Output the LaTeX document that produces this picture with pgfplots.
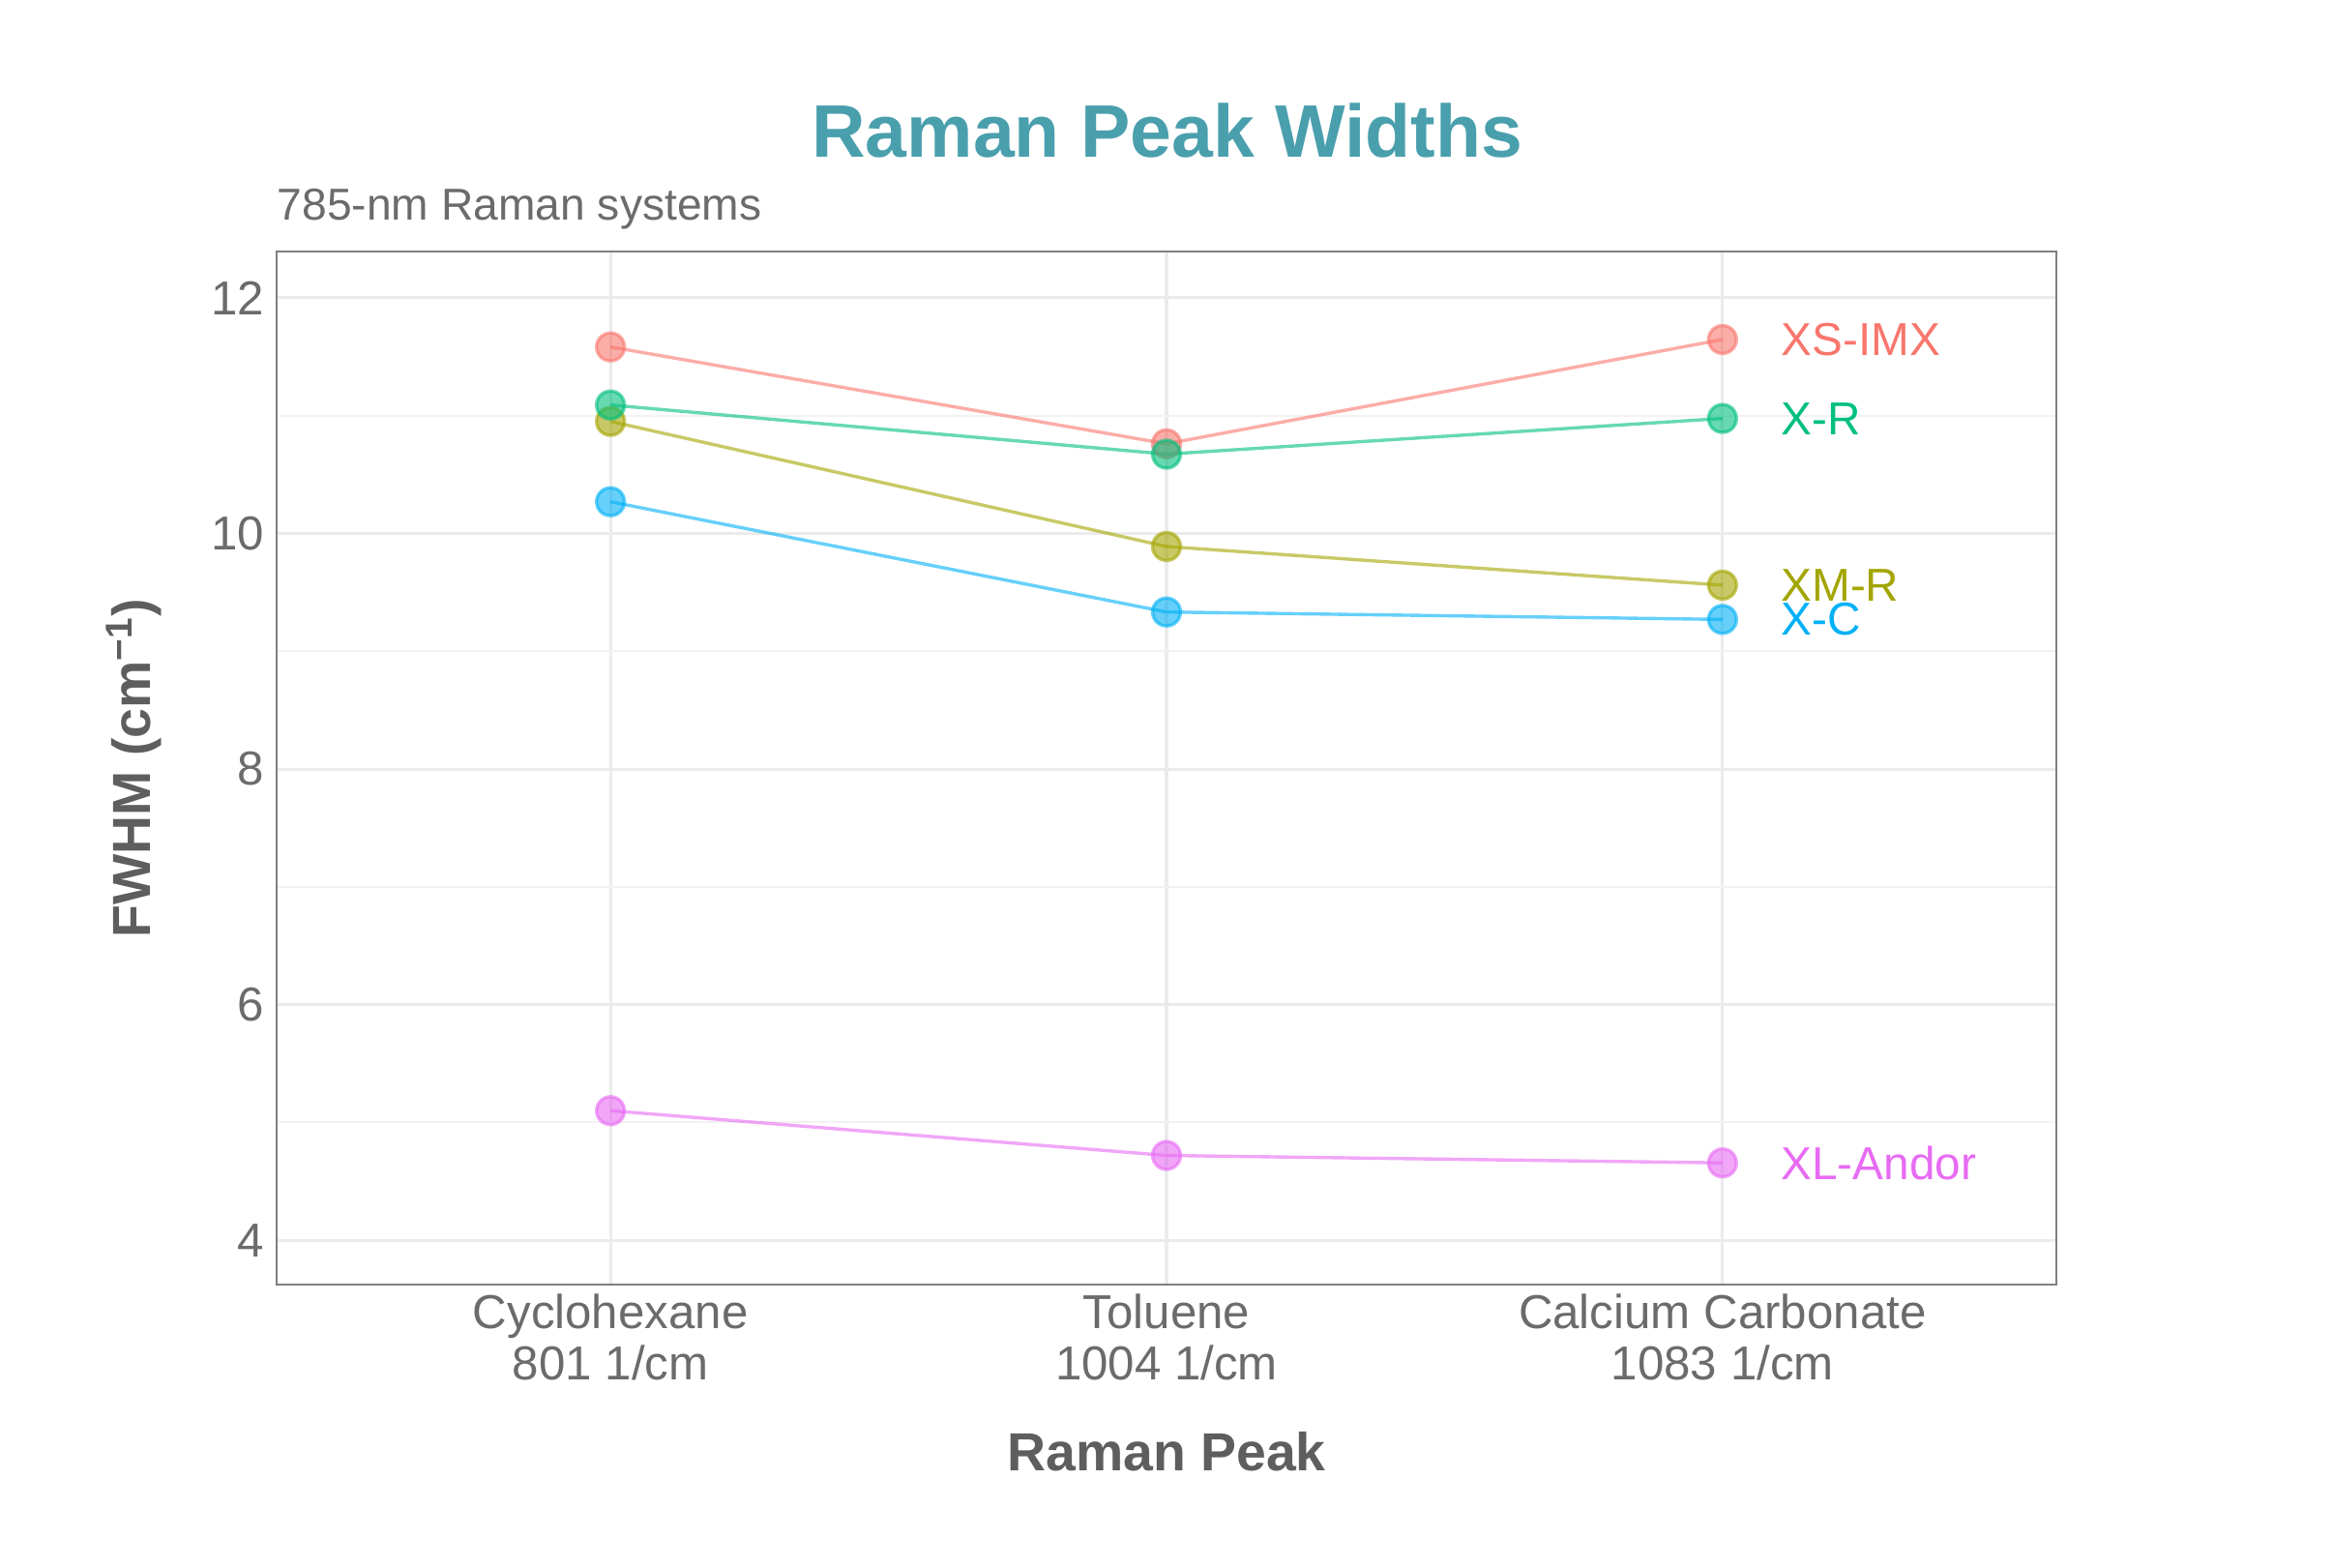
\documentclass[border=0pt]{standalone}
\usepackage{fontspec}
\setmainfont{Liberation Sans}
\usepackage{pgfplots}
\pgfplotsset{compat=1.18}
\definecolor{cR}{HTML}{F8766D}
\definecolor{cO}{HTML}{A3A500}
\definecolor{cG}{HTML}{00BF7D}
\definecolor{cB}{HTML}{00B0F6}
\definecolor{cP}{HTML}{E76BF3}
\definecolor{titlec}{HTML}{4A9FAD}
\definecolor{txt}{HTML}{6B6B6B}
\definecolor{axt}{HTML}{5E5E5E}
\definecolor{gridc}{HTML}{EBEBEB}
\definecolor{gridm}{HTML}{F2F2F2}
\begin{document}
\begin{tikzpicture}
\begin{axis}[
  at={(93pt,95pt)}, anchor=south west,
  scale only axis, width=597.5pt, height=347pt,
  xmin=-0.6, xmax=2.6, ymin=3.621, ymax=12.392,
  xtick={0,1,2},
  xticklabels={{Cyclohexane\\801 1/cm},{Toluene\\1004 1/cm},{Calcium Carbonate\\1083 1/cm}},
  ytick={4,6,8,10,12}, minor ytick={5,7,9,11},
  major tick length=0pt, minor tick length=0pt,
  xmajorgrids, ymajorgrids, yminorgrids,
  major grid style={color=gridc, line width=1pt},
  minor grid style={color=gridm, line width=0.6pt},
  axis line style={color=black!50, line width=0.6pt},
  tick label style={font=\fontsize{16}{17}\selectfont, text=txt},
  xticklabel style={align=center, inner sep=0pt, yshift=-3pt},
  yticklabel style={inner sep=0pt, xshift=-4pt},
  /pgf/number format/assume math mode=true,
  xlabel={Raman Peak},
  ylabel={FWHM (cm\textsuperscript{−1})},
  every axis x label/.style={at={(axis description cs:0.5,0)}, anchor=center, yshift=-56pt, font=\bfseries\fontsize{18}{20}\selectfont, text=axt},
  every axis y label/.style={at={(axis description cs:0,0.5)}, xshift=-48pt, rotate=90, anchor=center, font=\bfseries\fontsize{18}{20}\selectfont, text=axt},
  clip=false,
]
\addplot[color=cR, line width=1.1pt, draw opacity=0.6, mark=*, mark size=4.7pt, mark options={fill=cR, fill opacity=0.6, draw opacity=0.6}]
  coordinates {(0,11.583) (1,10.761) (2,11.646)};
\addplot[color=cO, line width=1.1pt, draw opacity=0.6, mark=*, mark size=4.7pt, mark options={fill=cO, fill opacity=0.6, draw opacity=0.6}]
  coordinates {(0,10.951) (1,9.889) (2,9.561)};
\addplot[color=cG, line width=1.1pt, draw opacity=0.6, mark=*, mark size=4.7pt, mark options={fill=cG, fill opacity=0.6, draw opacity=0.6}]
  coordinates {(0,11.090) (1,10.673) (2,10.976)};
\addplot[color=cB, line width=1.1pt, draw opacity=0.6, mark=*, mark size=4.7pt, mark options={fill=cB, fill opacity=0.6, draw opacity=0.6}]
  coordinates {(0,10.269) (1,9.333) (2,9.270)};
\addplot[color=cP, line width=1.1pt, draw opacity=0.6, mark=*, mark size=4.7pt, mark options={fill=cP, fill opacity=0.6, draw opacity=0.6}]
  coordinates {(0,5.100) (1,4.720) (2,4.657)};
\tikzset{lab/.style={anchor=west, inner sep=0pt, xshift=19.5pt, font=\fontsize{15.5}{16}\selectfont}}
\node[lab, text=cR] at (axis cs:2,11.646) {XS-IMX};
\node[lab, text=cG] at (axis cs:2,10.976) {X-R};
\node[lab, text=cO] at (axis cs:2,9.561) {XM-R};
\node[lab, text=cB] at (axis cs:2,9.270) {X-C};
\node[lab, text=cP] at (axis cs:2,4.657) {XL-Andor};
\end{axis}
\node[anchor=center, inner sep=0pt, text=titlec, font=\bfseries\fontsize{25}{30}\selectfont] at (392pt,482.5pt) {Raman Peak Widths};
\node[anchor=base west, inner sep=0pt, text=txt, font=\fontsize{15}{18}\selectfont] at (93pt,452.5pt) {785-nm Raman systems};
\pgfresetboundingbox
\path (0,0) rectangle (783.5pt,526.5pt);
\end{tikzpicture}
\end{document}
